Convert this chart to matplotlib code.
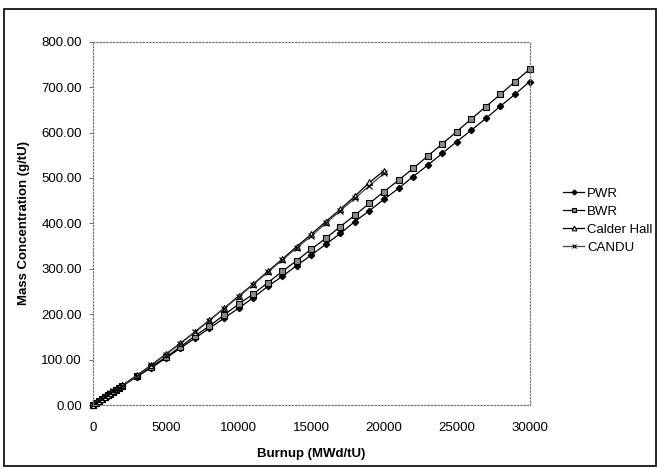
import matplotlib.pyplot as plt
from matplotlib.patches import Rectangle

plt.rcParams['font.family'] = ['Liberation Sans', 'DejaVu Sans']

# Burnup (MWd/tU)
burnup_low = [0, 200, 400, 600, 800, 1000, 1200, 1400, 1600, 1800, 2000]
burnup_30k = burnup_low + [3000, 4000, 5000, 6000, 7000, 8000, 9000, 10000, 11000, 12000,
                           13000, 14000, 15000, 16000, 17000, 18000, 19000, 20000, 21000,
                           22000, 23000, 24000, 25000, 26000, 27000, 28000, 29000, 30000]
burnup_20k = burnup_low + [3000, 4000, 5000, 6000, 7000, 8000, 9000, 10000, 11000, 12000,
                           13000, 14000, 15000, 16000, 17000, 18000, 19000, 20000]

# Mass concentration (g/tU)
pwr = [0, 4.2, 8.4, 12.6, 16.7, 20.9, 25.0, 29.2, 33.3, 37.4, 41.5,
       62, 82, 103, 125, 147, 169, 191, 213, 236, 261, 283, 307, 330, 354,
       378, 404, 428, 453, 477, 503, 528, 554, 580, 605, 631, 658, 684, 712]
bwr = [0, 4.2, 8.4, 12.7, 16.9, 21.1, 25.3, 29.5, 33.7, 37.9, 42.1,
       64, 84, 105, 128, 152, 174, 198, 222, 244, 269, 294, 318, 343, 367,
       393, 418, 444, 470, 495, 521, 548, 575, 602, 630, 657, 684, 712, 739]
calder = [0, 4.3, 8.6, 12.9, 17.2, 21.5, 25.8, 30.1, 34.4, 38.7, 43.0,
          65, 88, 112, 136, 161, 187, 213, 240, 266, 294, 321, 349, 376,
          404, 431, 460, 490, 516]
candu = [0, 4.3, 8.6, 12.8, 17.1, 21.4, 25.6, 29.9, 34.1, 38.4, 42.6,
         64, 87, 111, 135, 160, 186, 212, 238, 265, 292, 319, 346, 372,
         400, 428, 455, 483, 510]

W, H = 661, 468
fig = plt.figure(figsize=(W / 100, H / 100), dpi=100)
ax = fig.add_axes([93 / W, 1 - 405 / H, (529.5 - 93) / W, (405 - 41.7) / H])

ax.plot(burnup_30k, pwr, color='black', lw=0.9, marker='D', ms=3.2,
        mfc='black', mec='black', label='PWR', clip_on=False)
ax.plot(burnup_30k, bwr, color='black', lw=0.9, marker='s', ms=4,
        mfc='#8a8a8a', mec='black', mew=0.8, label='BWR', clip_on=False)
ax.plot(burnup_20k, calder, color='black', lw=0.9, marker='^', ms=4.5,
        mfc='white', mec='black', mew=0.8, label='Calder Hall', clip_on=False)
ax.plot(burnup_20k, candu, color='#444444', lw=0.9, marker='x', ms=4,
        mec='black', mew=0.8, label='CANDU', clip_on=False)

ax.set_xlim(0, 30000)
ax.set_ylim(0, 800)
ax.set_xticks([0, 5000, 10000, 15000, 20000, 25000, 30000])
ax.set_yticks([0, 100, 200, 300, 400, 500, 600, 700, 800])
ax.set_yticklabels([f'{v:.2f}' for v in ax.get_yticks()])
ax.tick_params(labelsize=9.5, length=3, width=0.6, color='#555555')
ax.tick_params(axis='x', length=0, pad=12)
ax.tick_params(axis='y', pad=5)

for s in ax.spines.values():
    s.set_linestyle(':')
    s.set_color('#777777')
    s.set_linewidth(0.9)

ax.set_xlabel('Burnup (MWd/tU)', fontsize=9.5, fontweight='bold', labelpad=10)
ax.set_ylabel('Mass Concentration (g/tU)', fontsize=9.5, fontweight='bold', labelpad=8)

fig.legend(loc='upper left', bbox_to_anchor=(558 / W, 1 - 182 / H), frameon=False,
           fontsize=9.5, handlelength=1.6, handletextpad=0.2, labelspacing=0.45,
           borderaxespad=0, markerscale=0.75)

# outer frame around the whole figure
fig.patches.append(Rectangle((4 / W, 2 / H), (655.5 - 4) / W, (458.7 - 2) / H,
                             transform=fig.transFigure, fill=False,
                             edgecolor='black', lw=1.2))

fig.savefig('out.png', dpi=100)
